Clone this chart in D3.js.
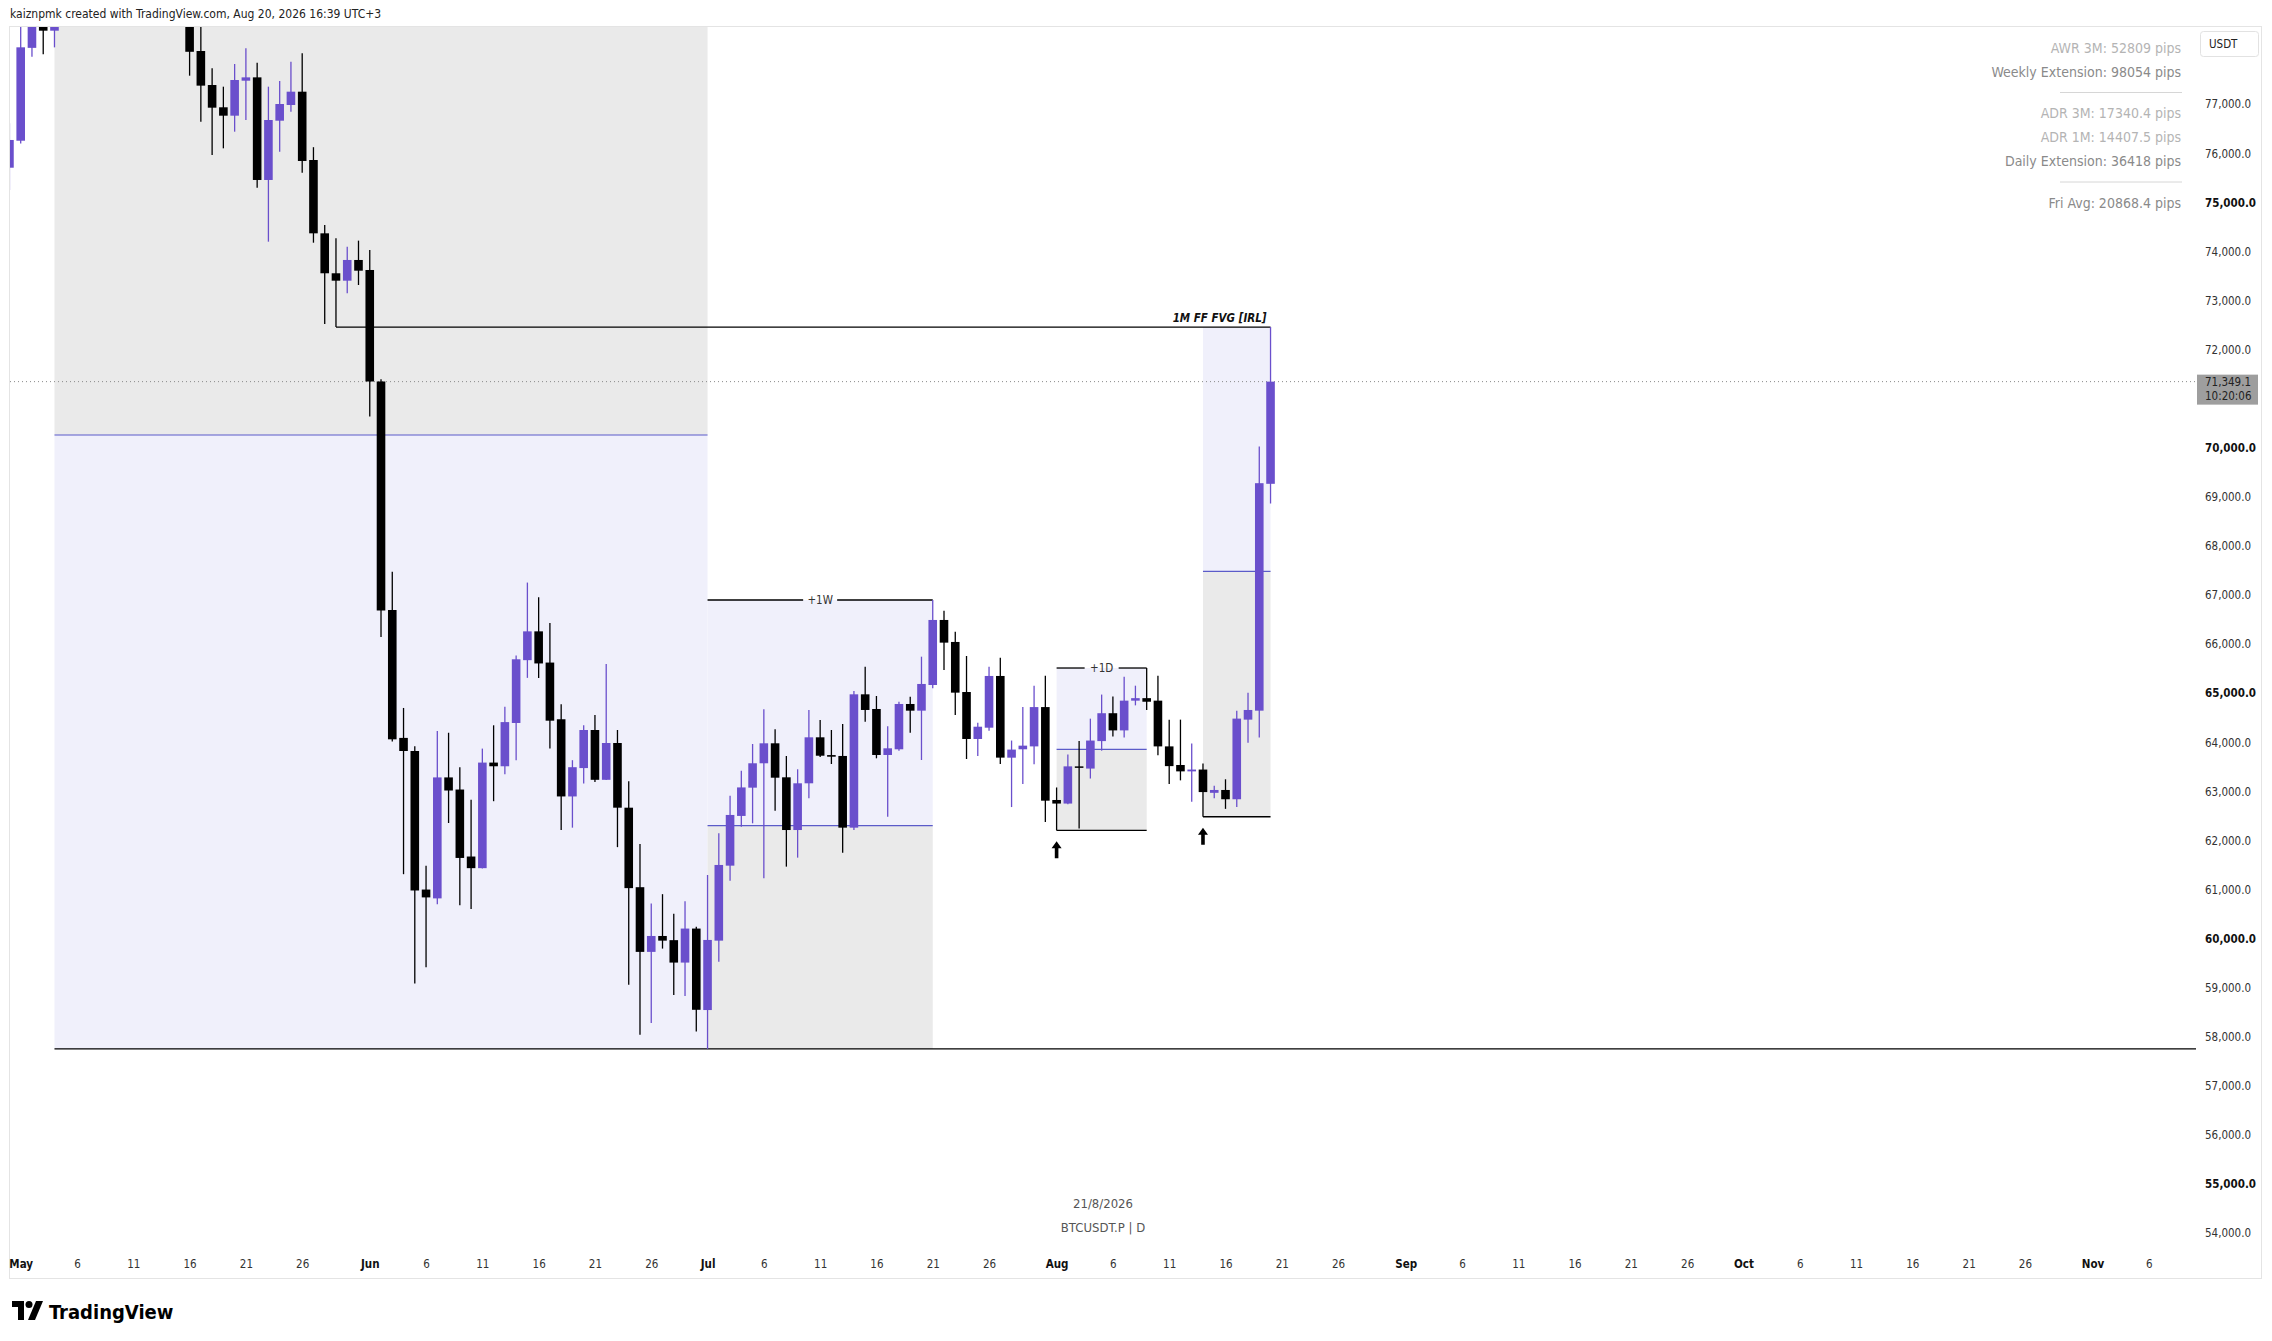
<!DOCTYPE html>
<html>
<head>
<meta charset="utf-8">
<script src="https://cdn.jsdelivr.net/npm/d3@7"></script>
<style>
  html, body { margin: 0; padding: 0; background: #fff; }
  svg { display: block; }
  text { font-family: "DejaVu Sans Condensed", "DejaVu Sans", sans-serif; }
</style>
</head>
<body>
<svg id="chart" width="2272" height="1341"></svg>
<script>
// daily candles, BTCUSDT.P (May 5 - May 15 sit above the visible range)
const dates = [
  "2026-04-30","2026-05-01","2026-05-02","2026-05-03","2026-05-04",
  "2026-05-16","2026-05-17","2026-05-18","2026-05-19","2026-05-20","2026-05-21","2026-05-22","2026-05-23",
  "2026-05-24","2026-05-25","2026-05-26","2026-05-27","2026-05-28","2026-05-29","2026-05-30","2026-05-31",
  "2026-06-01","2026-06-02","2026-06-03","2026-06-04","2026-06-05","2026-06-06","2026-06-07","2026-06-08",
  "2026-06-09","2026-06-10","2026-06-11","2026-06-12","2026-06-13","2026-06-14","2026-06-15","2026-06-16",
  "2026-06-17","2026-06-18","2026-06-19","2026-06-20","2026-06-21","2026-06-22","2026-06-23","2026-06-24",
  "2026-06-25","2026-06-26","2026-06-27","2026-06-28","2026-06-29","2026-06-30",
  "2026-07-01","2026-07-02","2026-07-03","2026-07-04","2026-07-05","2026-07-06","2026-07-07","2026-07-08",
  "2026-07-09","2026-07-10","2026-07-11","2026-07-12","2026-07-13","2026-07-14","2026-07-15","2026-07-16",
  "2026-07-17","2026-07-18","2026-07-19","2026-07-20","2026-07-21","2026-07-22","2026-07-23","2026-07-24",
  "2026-07-25","2026-07-26","2026-07-27","2026-07-28","2026-07-29","2026-07-30","2026-07-31",
  "2026-08-01","2026-08-02","2026-08-03","2026-08-04","2026-08-05","2026-08-06","2026-08-07","2026-08-08",
  "2026-08-09","2026-08-10","2026-08-11","2026-08-12","2026-08-13","2026-08-14","2026-08-15","2026-08-16",
  "2026-08-17","2026-08-18","2026-08-19","2026-08-20"
];
const opens = [
  75708,76258,78150,78900,78500,
  79000,78086,77393,76939,76768,77481,77549,75458,
  76666,76986,77257,75865,74371,73557,73406,73828,
  73624,71352,66696,64090,63823,61000,60820,63285,
  63038,61673,61436,63587,63512,64394,65674,66261,
  65625,64470,62897,63475,64251,63236,63986,62668,
  61048,59730,60054,59969,59512,60205,
  58545,59959,61487,62500,63076,63573,63980,63287,
  62213,63165,64102,63740,63722,62261,64978,64679,
  63742,63858,64781,64645,65168,66493,66045,65025,
  64068,64298,65352,63687,63858,63917,64718,
  62825,62752,63510,63465,64025,64593,64243,64849,
  64900,64849,63917,63538,63408,63445,62971,63029,
  62840,64462,64645,69267
];
const highs = [
  76613,78900,79200,79300,79400,
  79400,78700,77733,77359,77821,78141,77848,77359,
  77475,77868,78039,76126,74541,74270,74100,74222,
  74032,71400,67473,64700,63919,61483,64232,64195,
  63492,62828,63872,64347,64726,65768,67255,66954,
  66432,64774,63636,64347,64555,65597,64251,63209,
  61927,60716,60906,60509,60763,60244,
  61297,62146,62909,63423,63966,64673,64266,63721,
  63451,64659,64456,64251,64374,65046,65541,64944,
  64326,64828,64930,65745,66900,66682,66255,65759,
  64400,65541,65725,64036,64718,65154,65358,
  63080,63751,64025,64482,64973,64936,65336,65154,
  65514,65358,64462,64462,63975,63567,63117,63247,
  64645,65009,70029,72460
];
const lows = [
  75254,76200,77970,78020,78160,
  77583,76646,75967,76103,76442,76680,75301,74201,
  76034,76849,75607,74180,72524,72460,73149,73318,
  70641,66148,64015,61313,59086,59418,60698,62356,
  60680,60603,61430,62800,63350,63636,65313,65313,
  63872,62214,62261,63161,63190,63230,61864,59058,
  58043,58281,59797,58851,58832,58110,
  57752,59530,61181,62282,62350,61230,62607,61467,
  61650,62859,63700,63558,61752,62213,64421,63674,
  62485,63830,64197,63640,65101,65474,64557,63660,
  63721,64237,63559,62681,63153,63553,62375,
  62206,62740,62242,63262,63830,64121,64099,64753,
  64659,63734,63153,63225,62789,62483,62862,62644,
  62681,63989,64099,68866
];
const closes = [
  76273,78161,78850,78500,78950,
  78070,77380,76931,76768,77495,77549,75458,76680,
  77006,77257,75845,74371,73557,73406,73828,73610,
  71352,66686,64061,63823,60981,60840,63285,63018,
  61644,61436,63587,63512,64412,65692,66261,65607,
  64441,62897,63493,64251,63236,63986,62668,61029,
  59730,60054,59959,59512,60205,58550,
  59973,61501,62520,63081,63573,63980,63279,62213,
  63165,64102,63727,63707,62261,64978,64659,63742,
  63878,64781,64645,65189,66493,66031,65012,64068,
  64318,65352,63688,63852,63932,64718,62811,
  62752,63510,63480,64036,64593,64243,64849,64900,
  64827,63917,63515,63408,63445,62986,63029,62840,
  64483,64659,69280,71349.1
];

// range boxes drawn on the chart: [start, end, top, middle, bottom]
const rangeBox = ["2026-05-04", "2026-07-01", 80000, 70262, 57752];
const weekBox = ["2026-07-01", "2026-07-21", 66900, 62302, 57752];
const dayBox = ["2026-08-01", "2026-08-09", 65514, 63858, 62206];
const fvgBox = ["2026-08-14", "2026-08-20", 72460, 67483, 62483];
const fvgLine = ["2026-05-29", "2026-08-20", 72460];
const lowLine = ["2026-05-04", 57752];
const arrowDates = ["2026-08-01", "2026-08-14"];

const priceTicks = d3.range(54000, 77001, 1000);
const timeTicks = [
  "2026-05-01","2026-05-06","2026-05-11","2026-05-16","2026-05-21","2026-05-26",
  "2026-06-01","2026-06-06","2026-06-11","2026-06-16","2026-06-21","2026-06-26",
  "2026-07-01","2026-07-06","2026-07-11","2026-07-16","2026-07-21","2026-07-26",
  "2026-08-01","2026-08-06","2026-08-11","2026-08-16","2026-08-21","2026-08-26",
  "2026-09-01","2026-09-06","2026-09-11","2026-09-16","2026-09-21","2026-09-26",
  "2026-10-01","2026-10-06","2026-10-11","2026-10-16","2026-10-21","2026-10-26",
  "2026-11-01","2026-11-06"
];
const timeLabels = [
  "May","6","11","16","21","26","Jun","6","11","16","21","26",
  "Jul","6","11","16","21","26","Aug","6","11","16","21","26",
  "Sep","6","11","16","21","26","Oct","6","11","16","21","26","Nov","6"
];

const statLines = [
  "AWR 3M: 52809 pips", "Weekly Extension: 98054 pips", "|",
  "ADR 3M: 17340.4 pips", "ADR 1M: 14407.5 pips", "Daily Extension: 36418 pips", "|",
  "Fri Avg: 20868.4 pips"
];
const statStrong = [false, true, false, false, false, true, false, true];

const headerText = "kaiznpmk created with TradingView.com, Aug 20, 2026 16:39 UTC+3";
const symbolText = "BTCUSDT.P | D";
const dateText = "21/8/2026";
const countdown = "10:20:06";

const parse = d3.utcParse("%Y-%m-%d");
const candles = dates.map((d, i) => ({
  date: parse(d), open: opens[i], high: highs[i], low: lows[i], close: closes[i]
}));

const W = 2272, H = 1341;
const plot = { left: 10, right: 2196, top: 27, bottom: 1246 };
const UP = "#6a4fcc", DOWN = "#000000";
const LAV = "#f0f0fb", GREY = "#eaeaea", MID = "#5b5bc9";

const x = d3.scaleUtc()
  .domain([parse("2026-05-01"), parse("2026-11-06")])
  .range([20.7, 2148.8]);
const y = d3.scaleLinear()
  .domain([54000, 77000])
  .range([1233.1, 104.3]);

const svg = d3.select("#chart");

svg.append("rect").attr("width", W).attr("height", H).attr("fill", "#fff");

// header
svg.append("text")
  .attr("x", 10).attr("y", 18)
  .attr("font-size", 12).attr("fill", "#222")
  .text(headerText);

// pane frame
svg.append("rect")
  .attr("x", 9.5).attr("y", 26.5)
  .attr("width", 2252).attr("height", 1252)
  .attr("fill", "none").attr("stroke", "#e4e4e4");

svg.append("defs").append("clipPath").attr("id", "plotclip")
  .append("rect")
  .attr("x", plot.left).attr("y", plot.top)
  .attr("width", plot.right - plot.left).attr("height", plot.bottom - plot.top);

const g = svg.append("g").attr("clip-path", "url(#plotclip)");

// watermark
g.append("text")
  .attr("x", (plot.left + plot.right) / 2).attr("y", 1208)
  .attr("text-anchor", "middle").attr("font-size", 13).attr("fill", "#555")
  .text(dateText);
g.append("text")
  .attr("x", (plot.left + plot.right) / 2).attr("y", 1232)
  .attr("text-anchor", "middle").attr("font-size", 13).attr("fill", "#555")
  .text(symbolText);

// boxes: upper part / lower part split by a thin blue line
function drawBox(b, upperFill, lowerFill, bottomLine) {
  const x0 = x(parse(b[0])), x1 = x(parse(b[1]));
  g.append("rect").attr("x", x0).attr("width", x1 - x0)
    .attr("y", y(b[2])).attr("height", y(b[3]) - y(b[2]))
    .attr("fill", upperFill);
  g.append("rect").attr("x", x0).attr("width", x1 - x0)
    .attr("y", y(b[3])).attr("height", y(b[4]) - y(b[3]))
    .attr("fill", lowerFill);
  g.append("line").attr("x1", x0).attr("x2", x1)
    .attr("y1", y(b[3])).attr("y2", y(b[3]))
    .attr("stroke", MID).attr("stroke-width", 1.2);
  if (bottomLine) {
    g.append("line").attr("x1", x0).attr("x2", x1)
      .attr("y1", y(b[4])).attr("y2", y(b[4]))
      .attr("stroke", "#000").attr("stroke-width", 1.3);
  }
}
drawBox(rangeBox, GREY, LAV, false);
drawBox(weekBox, LAV, GREY, false);
drawBox(dayBox, LAV, GREY, true);
drawBox(fvgBox, LAV, GREY, true);

// long horizontal levels
g.append("line")
  .attr("x1", x(parse(lowLine[0]))).attr("x2", plot.right)
  .attr("y1", y(lowLine[1])).attr("y2", y(lowLine[1]))
  .attr("stroke", "#000").attr("stroke-width", 1.3);
g.append("line")
  .attr("x1", x(parse(fvgLine[0]))).attr("x2", x(parse(fvgLine[1])))
  .attr("y1", y(fvgLine[2])).attr("y2", y(fvgLine[2]))
  .attr("stroke", "#000").attr("stroke-width", 1.3);
g.append("text")
  .attr("x", x(parse(fvgLine[1])) - 4).attr("y", y(fvgLine[2]) - 5)
  .attr("text-anchor", "end").attr("font-size", 11.5)
  .attr("font-weight", "bold").attr("font-style", "italic").attr("fill", "#111")
  .text("1M FF FVG [IRL]");

// labelled top lines (+1W / +1D)
function labelledLine(b, label) {
  const x0 = x(parse(b[0])), x1 = x(parse(b[1])), yy = y(b[2]);
  const mid = (x0 + x1) / 2, gap = 17;
  g.append("line").attr("x1", x0).attr("x2", mid - gap).attr("y1", yy).attr("y2", yy)
    .attr("stroke", "#000").attr("stroke-width", 1.3);
  g.append("line").attr("x1", mid + gap).attr("x2", x1).attr("y1", yy).attr("y2", yy)
    .attr("stroke", "#000").attr("stroke-width", 1.3);
  g.append("text").attr("x", mid).attr("y", yy).attr("dy", "0.35em")
    .attr("text-anchor", "middle").attr("font-size", 11.5).attr("fill", "#333")
    .text(label);
}
labelledLine(weekBox, "+1W");
labelledLine(dayBox, "+1D");

// last price dotted line
const last = candles[candles.length - 1];
g.append("line")
  .attr("x1", plot.left).attr("x2", plot.right)
  .attr("y1", y(last.close)).attr("y2", y(last.close))
  .attr("stroke", "#8a8a8a").attr("stroke-width", 1).attr("stroke-dasharray", "1,3");

// candles
const bw = 8.6;
const cg = g.append("g").selectAll("g").data(candles).enter().append("g");
cg.append("line")
  .attr("x1", d => x(d.date)).attr("x2", d => x(d.date))
  .attr("y1", d => y(d.high)).attr("y2", d => y(d.low))
  .attr("stroke", d => d.close >= d.open ? UP : DOWN)
  .attr("stroke-width", 1.3);
cg.append("rect")
  .attr("x", d => x(d.date) - bw / 2).attr("width", bw)
  .attr("y", d => y(Math.max(d.open, d.close)))
  .attr("height", d => Math.max(1.5, Math.abs(y(d.open) - y(d.close))))
  .attr("fill", d => d.close >= d.open ? UP : DOWN);

// up arrows under the two lows
arrowDates.forEach(ad => {
  const c = candles.find(k => +k.date === +parse(ad));
  const ax = x(c.date), ay = y(c.low) + 11;
  g.append("path")
    .attr("d", `M${ax},${ay} l5,7 h-3.2 v10 h-3.6 v-10 h-3.2 z`)
    .attr("fill", "#000");
});

// price axis
const yAxis = d3.axisRight(y).tickValues(priceTicks)
  .tickFormat(d3.format(",.1f")).tickSize(0).tickPadding(0);
const ya = svg.append("g").attr("transform", "translate(2205,0)").call(yAxis);
ya.select(".domain").remove();
ya.selectAll("text")
  .attr("font-family", '"DejaVu Sans Condensed", "DejaVu Sans", sans-serif')
  .attr("font-size", 11.5)
  .attr("fill", d => d % 5000 === 0 ? "#111" : "#333")
  .attr("font-weight", d => d % 5000 === 0 ? "bold" : "normal");

// time axis
const tickDates = timeTicks.map(parse);
const xAxis = d3.axisBottom(x).tickValues(tickDates)
  .tickFormat((d, i) => timeLabels[i]).tickSize(0).tickPadding(0);
const xa = svg.append("g").attr("transform", "translate(0,1264)").call(xAxis);
xa.select(".domain").remove();
xa.selectAll("text")
  .attr("y", 0).attr("dy", "0.35em")
  .attr("font-family", '"DejaVu Sans Condensed", "DejaVu Sans", sans-serif')
  .attr("font-size", 11.5)
  .attr("fill", (d, i) => isNaN(+timeLabels[i]) ? "#111" : "#333")
  .attr("font-weight", (d, i) => isNaN(+timeLabels[i]) ? "bold" : "normal");

// currency box
svg.append("rect")
  .attr("x", 2200.5).attr("y", 31.5).attr("width", 58).attr("height", 25).attr("rx", 3)
  .attr("fill", "#fff").attr("stroke", "#e2e2e2");
svg.append("text")
  .attr("x", 2209).attr("y", 44).attr("dy", "0.35em")
  .attr("font-size", 11.5).attr("fill", "#222").text("USDT");

// last price tag
svg.append("rect")
  .attr("x", 2197).attr("y", y(last.close) - 7).attr("width", 61).attr("height", 30)
  .attr("fill", "#9e9e9e");
svg.append("text")
  .attr("x", 2205).attr("y", y(last.close)).attr("dy", "0.35em")
  .attr("font-size", 11.5).attr("fill", "#222")
  .text(d3.format(",.1f")(last.close));
svg.append("text")
  .attr("x", 2205).attr("y", y(last.close) + 14).attr("dy", "0.35em")
  .attr("font-size", 11.5).attr("fill", "#222")
  .text(countdown);

// statistics panel
let sy = 48;
statLines.forEach((s, i) => {
  if (s === "|") {
    svg.append("line").attr("x1", 2060).attr("x2", 2182)
      .attr("y1", sy - 3.5).attr("y2", sy - 3.5)
      .attr("stroke", "#d6d6d6").attr("stroke-width", 1);
    sy += 17.5;
    return;
  }
  svg.append("text")
    .attr("x", 2181).attr("y", sy).attr("dy", "0.35em")
    .attr("text-anchor", "end").attr("font-size", 14)
    .attr("fill", statStrong[i] ? "#8a8a8a" : "#b4b4b4")
    .text(s);
  sy += 24;
});

// TradingView logo
const logo = svg.append("g").attr("transform", "translate(12,1301)");
logo.append("path").attr("d", "M0,0 h12 v19 h-6 v-13 h-6 z").attr("fill", "#000");
logo.append("circle").attr("cx", 17).attr("cy", 3.5).attr("r", 3.5).attr("fill", "#000");
logo.append("path").attr("d", "M24,0 h7 l-8,19 h-7 z").attr("fill", "#000");
svg.append("text")
  .attr("x", 49).attr("y", 1319)
  .attr("font-size", 20).attr("font-weight", "bold").attr("fill", "#000")
  .text("TradingView");
</script>
</body>
</html>
